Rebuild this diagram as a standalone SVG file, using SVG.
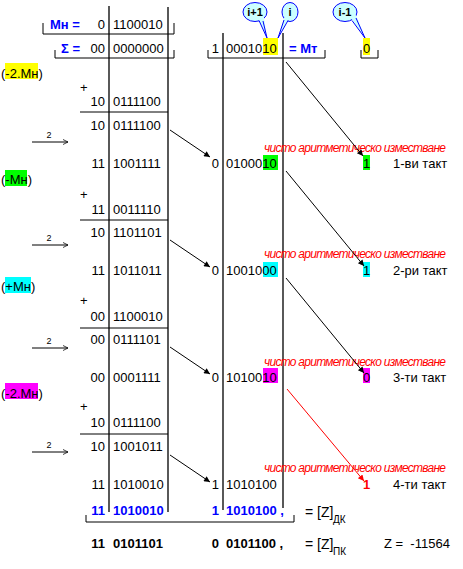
<svg xmlns="http://www.w3.org/2000/svg" width="463" height="569" viewBox="0 0 463 569">
<style>
text{font-family:"Liberation Sans",Arial,sans-serif;font-size:13px;fill:#000}
.r{text-anchor:end}
.b{font-weight:bold}
.bl{fill:#0000ff;font-weight:bold}
.red{fill:#ff0000;font-style:italic;font-size:12px}
.sm{font-size:9px;text-anchor:middle}
.bub{font-size:11px;font-weight:bold;text-anchor:middle}
.ln{stroke:#000;stroke-width:1.3;fill:none}
.th{stroke:#000;stroke-width:1;fill:none}
.hl{stroke:none}
</style>
<defs>
<marker id="ah" viewBox="0 0 10 10" refX="10" refY="5" markerWidth="9" markerHeight="6" orient="auto" markerUnits="userSpaceOnUse"><path d="M0,0 L10,5 L0,10 z" fill="#000"/></marker>
<marker id="ahr" viewBox="0 0 10 10" refX="10" refY="5" markerWidth="9" markerHeight="6" orient="auto" markerUnits="userSpaceOnUse"><path d="M0,0 L10,5 L0,10 z" fill="#ff0000"/></marker>
<marker id="oa" viewBox="0 0 10 10" refX="10" refY="5" markerWidth="5" markerHeight="7" orient="auto" markerUnits="userSpaceOnUse"><path d="M0,0 L10,5 L0,10" fill="none" stroke="#000" stroke-width="1.5"/></marker>
</defs>

<!-- grid lines -->
<g id="grid">
<path class="ln" d="M109,6 V512 M168,7 V512 M223,33 V510 M283,33 V508"/>
<path class="th" d="M80,112 H168 M80,220 H168 M80,328 H168 M80,434 H168"/>
<path class="th" d="M43,23 V34 H174 V23 M55,50 V58 H174 V50 M208,50 V58 H325 V50 M361,50 V58 H378 V50 M86,515 V522 H294 V515"/>
</g>

<!-- highlights -->
<g id="highlights">
<rect class="hl" x="263" y="38" width="15" height="17" fill="#ffff00"/>
<rect class="hl" x="363" y="38" width="7" height="17" fill="#ffff00"/>
<rect class="hl" x="5" y="63" width="33" height="16" fill="#ffff00"/>
<rect class="hl" x="5" y="170" width="22" height="16" fill="#00ff00"/>
<rect class="hl" x="5" y="277" width="26" height="16" fill="#00ffff"/>
<rect class="hl" x="5" y="383" width="33" height="16" fill="#ff00ff"/>
<rect class="hl" x="263" y="155" width="15" height="15" fill="#00ff00"/>
<rect class="hl" x="363" y="155" width="7" height="15" fill="#00ff00"/>
<rect class="hl" x="263" y="262" width="15" height="15" fill="#00ffff"/>
<rect class="hl" x="363" y="262" width="7" height="15" fill="#00ffff"/>
<rect class="hl" x="263" y="368" width="15" height="15" fill="#ff00ff"/>
<rect class="hl" x="363" y="368" width="7" height="15" fill="#ff00ff"/>
</g>

<!-- callouts -->
<g id="bubble-i1">
<ellipse cx="255" cy="12" rx="12" ry="9.5" fill="#ccffff" stroke="#0000ff"/>
<polygon points="258,18 264,18 267,38" fill="#ccffff"/>
<path d="M259,20.5 L267,38 L263,21" stroke="#0000ff" fill="none"/>
<text class="bub" x="255" y="16">i+1</text>
</g>
<g id="bubble-i">
<ellipse cx="290" cy="12" rx="8" ry="9.5" fill="#ccffff" stroke="#0000ff"/>
<polygon points="284,18 289,18 278,38" fill="#ccffff"/>
<path d="M284,20 L278,38 L288,20.5" stroke="#0000ff" fill="none"/>
<text class="bub" x="290" y="16">i</text>
</g>
<g id="bubble-im1">
<ellipse cx="345" cy="12" rx="12" ry="9.5" fill="#ccffff" stroke="#0000ff"/>
<polygon points="351,18 356,15 365,38" fill="#ccffff"/>
<path d="M352,20.5 L365,38 L356,18" stroke="#0000ff" fill="none"/>
<text class="bub" x="345" y="16">i-1</text>
</g>

<!-- header -->
<g id="header">
<text class="bl" x="50" y="28.5">Мн =</text>
<text class="r" x="105" y="28.5">0</text>
<text x="113" y="28.5">1100010</text>
<text class="bl" x="61" y="53">Σ =</text>
<text class="r" x="105" y="53">00</text>
<text x="113" y="53">0000000</text>
<text class="r" x="219" y="53">1</text>
<text x="226" y="53">0001010</text>
<text class="bl" x="289" y="53">= Мт</text>
<text x="363" y="53">0</text>
</g>

<!-- left labels -->
<g id="labels">
<text x="1" y="78">(-2.Мн)</text>
<text x="1" y="184">(-Мн)</text>
<text x="1" y="291">(+Мн)</text>
<text x="1" y="398">(-2.Мн)</text>
<text x="80" y="92">+</text>
<text x="80" y="199">+</text>
<text x="80" y="305">+</text>
<text x="80" y="411">+</text>
</g>

<!-- accumulator column -->
<g id="acc">
<text class="r" x="105" y="106">10</text><text x="113" y="106">0111100</text>
<text class="r" x="105" y="130">10</text><text x="113" y="130">0111100</text>
<text class="r" x="105" y="168">11</text><text x="113" y="168">1001111</text>
<text class="r" x="105" y="214">11</text><text x="113" y="214">0011110</text>
<text class="r" x="105" y="237">10</text><text x="113" y="237">1101101</text>
<text class="r" x="105" y="275">11</text><text x="113" y="275">1011011</text>
<text class="r" x="105" y="321">00</text><text x="113" y="321">1100010</text>
<text class="r" x="105" y="344">00</text><text x="113" y="344">0111101</text>
<text class="r" x="105" y="382">00</text><text x="113" y="382">0001111</text>
<text class="r" x="105" y="427">10</text><text x="113" y="427">0111100</text>
<text class="r" x="105" y="451">10</text><text x="113" y="451">1001011</text>
<text class="r" x="105" y="489">11</text><text x="113" y="489">1010010</text>
<text class="r bl" x="105" y="515">11</text><text class="bl" x="113" y="515">1010010</text>
<text class="r b" x="105" y="548">11</text><text class="b" x="113" y="548">0101101</text>
</g>

<!-- multiplier column -->
<g id="mult">
<text class="r" x="219" y="168">0</text><text x="226" y="168">0100010</text>
<text class="r" x="219" y="275">0</text><text x="226" y="275">1001000</text>
<text class="r" x="219" y="382">0</text><text x="226" y="382">1010010</text>
<text class="r" x="219" y="489">1</text><text x="226" y="489">1010100</text>
<text class="r bl" x="219" y="515">1</text><text class="bl" x="226" y="515">1010100 ,</text>
<text class="r b" x="219" y="548">0</text><text class="b" x="226" y="548">0101100 ,</text>
</g>

<!-- shifted-out bits and steps -->
<g id="steps">
<text class="red" x="264" y="152" textLength="182">чисто аритметическо изместване</text>
<text class="red" x="264" y="258" textLength="182">чисто аритметическо изместване</text>
<text class="red" x="264" y="366" textLength="182">чисто аритметическо изместване</text>
<text class="red" x="264" y="472" textLength="182">чисто аритметическо изместване</text>
<text x="363" y="168">1</text>
<text x="363" y="275">1</text>
<text x="363" y="382">0</text>
<text x="363" y="489" class="b" style="fill:#ff0000">1</text>
<text x="393" y="168">1-ви такт</text>
<text x="393" y="275">2-ри такт</text>
<text x="393" y="382">3-ти такт</text>
<text x="393" y="489">4-ти такт</text>
</g>

<!-- results -->
<g id="result">
<text x="305" y="517" style="font-size:14px">= [Z]</text>
<text x="333" y="523" style="font-size:10px">ДК</text>
<text x="305" y="549" style="font-size:14px">= [Z]</text>
<text x="333" y="555" style="font-size:10px">ПК</text>
<text x="384" y="548">Z = &#160;-11564</text>
</g>

<!-- connectors -->
<g id="connectors">
<path class="th" marker-end="url(#oa)" d="M32,142 H68"/>
<path class="th" marker-end="url(#oa)" d="M32,245 H68"/>
<path class="th" marker-end="url(#oa)" d="M32,348 H68"/>
<path class="th" marker-end="url(#oa)" d="M32,452 H68"/>
<text class="sm" x="49" y="138">2</text>
<text class="sm" x="49" y="241">2</text>
<text class="sm" x="49" y="344">2</text>
<text class="sm" x="49" y="448">2</text>
<path class="th" marker-end="url(#ah)" d="M170,130 L210,157"/>
<path class="th" marker-end="url(#ah)" d="M170,240 L210,267"/>
<path class="th" marker-end="url(#ah)" d="M170,347 L210,374"/>
<path class="th" marker-end="url(#ah)" d="M170,455 L210,482"/>
<path class="th" marker-end="url(#ah)" d="M286,62 L363,156"/>
<path class="th" marker-end="url(#ah)" d="M286,171 L364,266"/>
<path class="th" marker-end="url(#ah)" d="M286,278 L364,373"/>
<path fill="none" stroke="#ff0000" stroke-width="1" marker-end="url(#ahr)" d="M287,389 L364,481"/>
</g>
</svg>
